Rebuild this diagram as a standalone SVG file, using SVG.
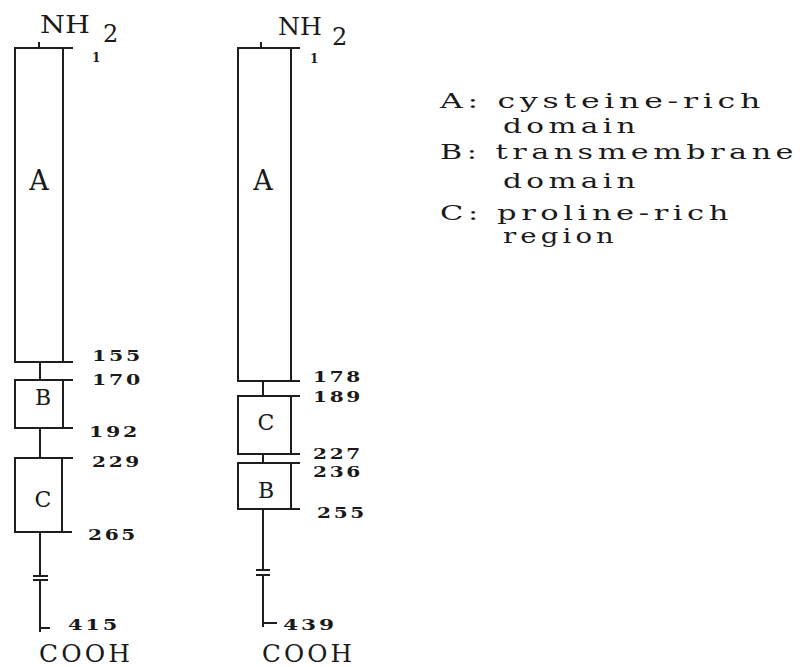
<svg xmlns="http://www.w3.org/2000/svg" width="805" height="667" viewBox="0 0 805 667">
<style>
.ln{stroke:#1e1e1e;stroke-width:2;fill:none}
.t{font-family:"DejaVu Serif","Liberation Serif",serif;fill:#1a1a1a}
.num{font-size:15px;font-weight:bold;letter-spacing:2px}
.one{font-size:12px;font-weight:bold}
.big{font-size:24px}
.lbl{font-size:22px;text-anchor:middle}
.lblA{font-size:27px;text-anchor:middle}
.leg{font-size:20px;letter-spacing:3px}
</style>
<rect width="805" height="667" fill="#ffffff"/>
<g id="connectors">
<path class="ln" d="M39,42V48 M40,362V380 M40,428V458 M40,532V576 M33,576H48 M33,580H48 M40,580V632 M40,628H50"/>
<path class="ln" d="M261,42V48 M263,381V396 M263,454V463 M263,509V570 M256,570H270 M256,575H270 M263,575V627 M263,623H277"/>
</g>
<g id="left-A"><rect class="ln" x="15" y="48" width="48" height="314"/><path class="ln" d="M63,48H73 M63,362H73"/><text class="t lblA" x="39" y="190">A</text></g>
<g id="left-B"><rect class="ln" x="15" y="380" width="48" height="48"/><path class="ln" d="M63,380H73 M63,428H73"/><text class="t lbl" x="43" y="405">B</text></g>
<g id="left-C"><rect class="ln" x="15" y="458" width="47" height="74"/><path class="ln" d="M62,458H73 M62,532H72"/><text class="t lbl" x="43" y="507">C</text></g>
<g id="right-A"><rect class="ln" x="238" y="48" width="53" height="333"/><path class="ln" d="M291,48H300 M291,381H300"/><text class="t lblA" x="263" y="190">A</text></g>
<g id="right-C"><rect class="ln" x="238" y="396" width="53" height="58"/><path class="ln" d="M291,396H300 M291,454H300"/><text class="t lbl" x="266" y="430">C</text></g>
<g id="right-B"><rect class="ln" x="238" y="463" width="53" height="46"/><path class="ln" d="M291,463H300 M291,509H300"/><text class="t lbl" x="266" y="498">B</text></g>
<g id="left-labels">
<text class="t big" x="40" y="33" textLength="50" lengthAdjust="spacingAndGlyphs">NH</text>
<text class="t big" x="103" y="42">2</text>
<text class="t one" x="92" y="62">1</text>
<text class="t num" x="92" y="361" textLength="51" lengthAdjust="spacingAndGlyphs">155</text>
<text class="t num" x="92" y="385" textLength="51" lengthAdjust="spacingAndGlyphs">170</text>
<text class="t num" x="89" y="437" textLength="51" lengthAdjust="spacingAndGlyphs">192</text>
<text class="t num" x="92" y="467" textLength="50" lengthAdjust="spacingAndGlyphs">229</text>
<text class="t num" x="88" y="540" textLength="50" lengthAdjust="spacingAndGlyphs">265</text>
<text class="t num" x="68" y="630" textLength="52" lengthAdjust="spacingAndGlyphs">415</text>
<text class="t big" x="39" y="662" textLength="94" lengthAdjust="spacingAndGlyphs" letter-spacing="3">COOH</text>
</g>
<g id="right-labels">
<text class="t big" x="278" y="35" textLength="44" lengthAdjust="spacingAndGlyphs">NH</text>
<text class="t big" x="332" y="45">2</text>
<text class="t one" x="310" y="63">1</text>
<text class="t num" x="313" y="382" textLength="50" lengthAdjust="spacingAndGlyphs">178</text>
<text class="t num" x="313" y="402" textLength="50" lengthAdjust="spacingAndGlyphs">189</text>
<text class="t num" x="313" y="459" textLength="50" lengthAdjust="spacingAndGlyphs">227</text>
<text class="t num" x="313" y="477" textLength="50" lengthAdjust="spacingAndGlyphs">236</text>
<text class="t num" x="317" y="518" textLength="50" lengthAdjust="spacingAndGlyphs">255</text>
<text class="t num" x="283" y="630" textLength="54" lengthAdjust="spacingAndGlyphs">439</text>
<text class="t big" x="262" y="662" textLength="93" lengthAdjust="spacingAndGlyphs" letter-spacing="3">COOH</text>
</g>
<g id="legend">
<text class="t leg" x="440" y="108" textLength="325" lengthAdjust="spacingAndGlyphs">A: cysteine-rich</text>
<text class="t leg" x="503" y="133" textLength="137" lengthAdjust="spacingAndGlyphs">domain</text>
<text class="t leg" x="440" y="159" textLength="358" lengthAdjust="spacingAndGlyphs">B: transmembrane</text>
<text class="t leg" x="503" y="188" textLength="137" lengthAdjust="spacingAndGlyphs">domain</text>
<text class="t leg" x="440" y="220" textLength="293" lengthAdjust="spacingAndGlyphs">C: proline-rich</text>
<text class="t leg" x="503" y="243" textLength="115" lengthAdjust="spacingAndGlyphs">region</text>
</g>
</svg>
